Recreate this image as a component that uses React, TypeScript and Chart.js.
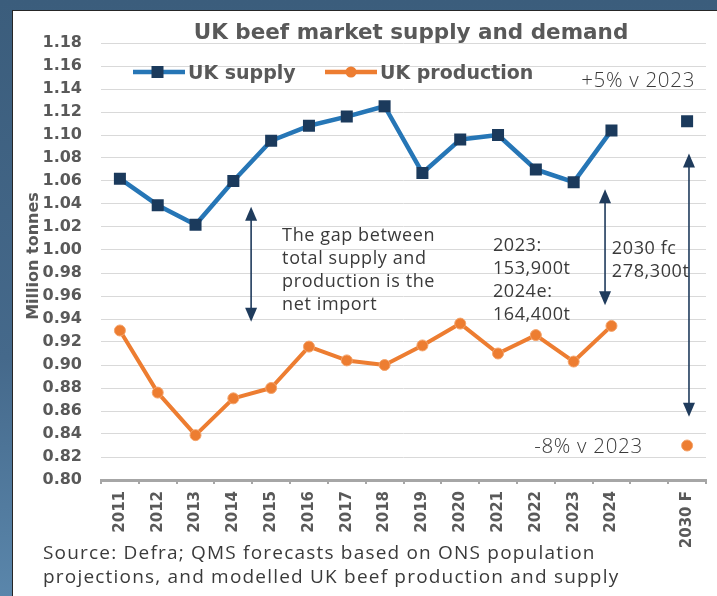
import React, { useEffect, useRef } from "react";
import { Chart, registerables } from "chart.js";

Chart.register(...registerables);

// ---------- data ----------
const categories = ["2011", "2012", "2013", "2014", "2015", "2016", "2017", "2018", "2019", "2020", "2021", "2022", "2023", "2024", "", "2030 F"];
const ukSupply = [1.062, 1.039, 1.022, 1.060, 1.095, 1.108, 1.116, 1.125, 1.067, 1.096, 1.100, 1.070, 1.059, 1.104, null, 1.112];
const ukProduction = [0.930, 0.876, 0.839, 0.871, 0.880, 0.916, 0.904, 0.900, 0.917, 0.936, 0.910, 0.926, 0.903, 0.934, null, 0.830];
const yMin = 0.8;
const yMax = 1.18;
const yStep = 0.02;

const titleText = "UK beef market supply and demand";
const yAxisTitle = "Million tonnes";
const legendLabels = ["UK supply", "UK production"];
const sourceLines = [
  "Source: Defra; QMS forecasts based on ONS population",
  "projections, and modelled UK beef production and supply",
];

// arrows: category position (fractional index), from value, to value
const arrowX = [3.47, 12.83, 15.05];
const arrowTop = [1.0377, 1.0528, 1.084];
const arrowBottom = [0.9377, 0.952, 0.855];

// notes: anchor in category/value units
const noteX = [4.29, 9.865, 13.01, 15.21, 13.83];
const noteY = [1.0078, 0.9991, 0.9965, 1.1417, 0.8235];
const noteAlign: CanvasTextAlign[] = ["left", "left", "left", "right", "right"];
const noteLines = [
  ["The gap between", "total supply and", "production is the", "net import"],
  ["2023:", "153,900t", "2024e:", "164,400t"],
  ["2030 fc", "278,300t"],
  ["+5% v 2023"],
  ["-8% v 2023"],
];

// ---------- styles ----------
const W = 717;
const H = 596;
const supplyLine = "#2676b6";
const supplyMarker = "#1b3a5c";
const prodColor = "#ed7d31";
const grayText = "#595959";
const noteColor = "#3a3a3a";
const arrowColor = "#1f3b5c";
const boldFont = "DejaVu Sans";
const noteFont = "'Open Sans'";

const overlayPlugin = {
  id: "overlay",
  afterDraw(chart: any) {
    const ctx: any = chart.ctx;
    const xs = chart.scales.x;
    const ys = chart.scales.y;
    ctx.save();

    // title
    ctx.fillStyle = grayText;
    ctx.font = `bold 21.5px ${boldFont}`;
    ctx.textAlign = "center";
    ctx.textBaseline = "alphabetic";
    ctx.fillText(titleText, 411, 39);

    // legend
    const ly = 72;
    ctx.lineWidth = 4.5;
    ctx.strokeStyle = supplyLine;
    ctx.beginPath();
    ctx.moveTo(133, ly);
    ctx.lineTo(185, ly);
    ctx.stroke();
    ctx.fillStyle = supplyMarker;
    ctx.fillRect(151.5, ly - 6, 12, 12);
    ctx.strokeStyle = prodColor;
    ctx.beginPath();
    ctx.moveTo(325, ly);
    ctx.lineTo(377, ly);
    ctx.stroke();
    ctx.fillStyle = prodColor;
    ctx.beginPath();
    ctx.arc(351, ly, 5.5, 0, Math.PI * 2);
    ctx.fill();
    ctx.fillStyle = grayText;
    ctx.font = `bold 19px ${boldFont}`;
    ctx.textAlign = "left";
    ctx.fillText(legendLabels[0], 188, 79);
    ctx.fillText(legendLabels[1], 380, 79);

    // y axis title
    ctx.save();
    ctx.translate(38, 256);
    ctx.rotate(-Math.PI / 2);
    ctx.textAlign = "center";
    ctx.font = `bold 16px ${boldFont}`;
    ctx.fillStyle = grayText;
    ctx.fillText(yAxisTitle, 0, 0);
    ctx.restore();

    // arrows
    ctx.strokeStyle = arrowColor;
    ctx.fillStyle = arrowColor;
    ctx.lineWidth = 1.6;
    for (let i = 0; i < arrowX.length; i++) {
      const x = xs.getPixelForValue(arrowX[i]);
      const y1 = ys.getPixelForValue(arrowTop[i]);
      const y2 = ys.getPixelForValue(arrowBottom[i]);
      const hh = 14;
      const hw = 6;
      ctx.beginPath();
      ctx.moveTo(x, y1 + hh - 2);
      ctx.lineTo(x, y2 - hh + 2);
      ctx.stroke();
      ctx.beginPath();
      ctx.moveTo(x, y1);
      ctx.lineTo(x - hw, y1 + hh);
      ctx.lineTo(x + hw, y1 + hh);
      ctx.closePath();
      ctx.fill();
      ctx.beginPath();
      ctx.moveTo(x, y2);
      ctx.lineTo(x - hw, y2 - hh);
      ctx.lineTo(x + hw, y2 - hh);
      ctx.closePath();
      ctx.fill();
    }

    // notes
    ctx.fillStyle = noteColor;
    for (let i = 0; i < noteLines.length; i++) {
      const x = xs.getPixelForValue(noteX[i]);
      const y = ys.getPixelForValue(noteY[i]);
      ctx.textAlign = noteAlign[i];
      if (i >= 3) {
        ctx.font = `300 20.5px ${noteFont}`;
        ctx.letterSpacing = "0.7px";
      } else {
        ctx.font = `18px ${noteFont}`;
        ctx.letterSpacing = "0.6px";
      }
      noteLines[i].forEach((t: string, k: number) => ctx.fillText(t, x, y + k * 23));
    }

    // source
    ctx.fillStyle = noteColor;
    ctx.font = `19px ${noteFont}`;
    ctx.letterSpacing = "1.2px";
    ctx.textAlign = "left";
    sourceLines.forEach((t, k) => ctx.fillText(t, 43, 559 + k * 24));
    ctx.letterSpacing = "0px";

    ctx.restore();
  },
};

export default function App() {
  const ref = useRef<HTMLCanvasElement | null>(null);

  useEffect(() => {
    document.body.style.margin = "0";
    const canvas = ref.current!;
    const chart = new Chart(canvas, {
      type: "line",
      data: {
        labels: categories,
        datasets: [
          {
            label: legendLabels[0],
            data: ukSupply,
            borderColor: supplyLine,
            borderWidth: 4.5,
            borderJoinStyle: "round",
            pointStyle: "rect",
            pointRadius: 8.5,
            pointBackgroundColor: supplyMarker,
            pointBorderColor: supplyMarker,
            pointBorderWidth: 0,
            spanGaps: false,
          },
          {
            label: legendLabels[1],
            data: ukProduction,
            borderColor: prodColor,
            borderWidth: 4,
            borderJoinStyle: "round",
            pointStyle: "circle",
            pointRadius: 5.5,
            pointBackgroundColor: prodColor,
            pointBorderColor: "#f3a36b",
            pointBorderWidth: 1,
            spanGaps: false,
          },
        ],
      },
      options: {
        responsive: false,
        maintainAspectRatio: false,
        animation: false,
        devicePixelRatio: 1,
        layout: { padding: { left: 0, top: 43, right: 11, bottom: 0 } },
        plugins: {
          legend: { display: false },
          title: { display: false },
          tooltip: { enabled: false },
        },
        scales: {
          x: {
            type: "category",
            offset: true,
            grid: {
              offset: true,
              drawOnChartArea: false,
              drawTicks: true,
              tickLength: 4,
              color: "#a6a6a6",
              lineWidth: 2,
            },
            border: { display: true, color: "#a6a6a6", width: 3 },
            ticks: {
              autoSkip: false,
              maxRotation: 90,
              minRotation: 90,
              padding: 7,
              color: grayText,
              font: { family: boldFont, weight: "bold", size: 15 },
            },
            afterFit(scale: any) {
              scale.height = H - 480;
            },
          },
          y: {
            min: yMin,
            max: yMax,
            grid: { color: "#d9d9d9", lineWidth: 1, drawTicks: false },
            border: { display: false },
            ticks: {
              stepSize: yStep,
              padding: 19,
              color: grayText,
              font: { family: boldFont, weight: "bold", size: 16 },
              callback: (v: any) => Number(v).toFixed(2),
            },
            afterFit(scale: any) {
              scale.width = 101;
            },
          },
        },
      },
      plugins: [overlayPlugin],
    });
    return () => chart.destroy();
  }, []);

  return (
    <div
      style={{
        position: "fixed",
        left: 0,
        top: 0,
        width: W,
        height: H,
        overflow: "hidden",
        background: "linear-gradient(180deg, #3b5d7c 0%, #45698b 60%, #5a86ab 100%)",
      }}
    >
      <div
        style={{
          position: "absolute",
          left: 12,
          top: 10,
          width: W,
          height: H,
          background: "#ffffff",
          borderLeft: "1.5px solid #262626",
          borderTop: "1.5px solid #262626",
        }}
      />
      <canvas ref={ref} width={W} height={H} style={{ position: "absolute", left: 0, top: 0 }} />
    </div>
  );
}
